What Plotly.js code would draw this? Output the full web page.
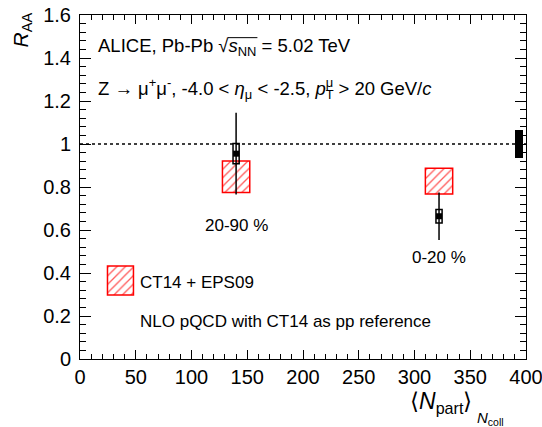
<!DOCTYPE html>
<html><head><meta charset="utf-8">
<script src="https://cdn.plot.ly/plotly-3.0.1.min.js"></script>
<style>html,body{margin:0;padding:0;background:#fff}</style>
</head><body>
<div id="chart" style="width:542px;height:427px"></div>
<script>
// ---------- data ----------
const centralityLabels = ['20-90 %', '0-20 %'];
const nPart = [140, 322];
const raa = [0.955, 0.664];
const statErr = [0.19, 0.111];
const sysErr = [0.047, 0.031];
const theoryCentral = [0.848, 0.827];
const theoryErr = [0.073, 0.060];
const globalUncX = [394];
const globalUnc = [0.066];
const xTickVals = [0, 50, 100, 150, 200, 250, 300, 350, 400];
const yTickVals = [0, 0.2, 0.4, 0.6, 0.8, 1, 1.2, 1.4, 1.6];

// ---------- geometry helpers ----------
const W = 542, H = 427, ML = 80, MR = 16, MT = 15, MB = 68;
const PW = W - ML - MR, PH = H - MT - MB;
const px2x = p => (p - ML) / PW;
const px2y = p => (H - MB - p) / PH;
const FONT = 'Liberation Sans, Arial, Helvetica, sans-serif';
const TOPSIZE = 18.5;

const hatch = {
  color: 'white',
  line: {color: '#ff0000', width: 1.5},
  pattern: {shape: '/', fgcolor: '#ff5a5a', bgcolor: 'white', size: 6, solidity: 0.22}
};

const data = [
  { // theory boxes
    type: 'bar', x: nPart,
    base: theoryCentral.map((c, i) => c - theoryErr[i]),
    y: theoryErr.map(e => 2 * e),
    width: 24.5, marker: hatch, hoverinfo: 'skip', showlegend: false
  },
  { // legend sample box
    type: 'bar', x: [36.3], base: [0.298], y: [0.135], width: 23.3,
    marker: hatch, hoverinfo: 'skip', showlegend: false
  },
  { // systematic boxes
    type: 'bar', x: nPart,
    base: raa.map((v, i) => v - sysErr[i]),
    y: sysErr.map(e => 2 * e),
    width: 5.5,
    marker: {color: 'rgba(0,0,0,0)', line: {color: 'black', width: 1.5}},
    hoverinfo: 'skip', showlegend: false
  },
  { // global uncertainty box
    type: 'bar', x: globalUncX,
    base: globalUnc.map(g => 1 - g), y: globalUnc.map(g => 2 * g),
    width: 7, marker: {color: 'black', line: {width: 0}},
    hoverinfo: 'skip', showlegend: false
  },
  { // data points
    type: 'scatter', mode: 'markers', x: nPart, y: raa,
    marker: {symbol: 'square', size: 6, color: 'black'},
    error_y: {type: 'data', array: statErr, width: 0, thickness: 1.5, color: 'black'},
    showlegend: false, cliponaxis: false
  }
];

const txt = (text, xp, yp, opts = {}) => Object.assign({
  text, xref: 'paper', yref: 'paper', x: px2x(xp), y: px2y(yp),
  xanchor: 'left', yanchor: 'middle', align: 'left', showarrow: false, borderpad: 0,
  font: {family: FONT, size: 17, color: 'black'}
}, opts);

const annotations = [
  txt('ALICE, Pb-Pb √<i>s</i><sub>NN</sub> = 5.02 TeV', 97, 47, {font: {family: FONT, size: TOPSIZE, color: 'black'}}),
  txt('Z → μ<sup>+</sup>μ<sup>-</sup>, -4.0 &lt; <i>η</i><sub>μ</sub> &lt; -2.5, <i>p</i><sub>T</sub><sup>μ</sup> &gt; 20 GeV/<i>c</i>', 97, 88,
      {font: {family: FONT, size: TOPSIZE, color: 'black'}}),
  txt('CT14 + EPS09', 139, 282),
  txt('NLO pQCD with CT14 as pp reference', 139, 321),
  // y title
  txt('<i>R</i><sub>AA</sub>', 22, 12, {xanchor: 'center', yanchor: 'top', align: 'center', textangle: -90,
      font: {family: FONT, size: 21, color: 'black'}}),
  // x title
  txt('⟨<i>N</i><sub>part</sub>⟩', 409, 402, {font: {family: FONT, size: 23, color: 'black'}}),
  txt('<i>N</i><sub>coll</sub>', 476, 418, {font: {family: FONT, size: 15, color: 'black'}})
];
// centrality labels at the data x positions
const labelYpx = [225, 257];
centralityLabels.forEach((lab, i) => {
  annotations.push({
    text: lab, xref: 'x', yref: 'paper', x: nPart[i], y: px2y(labelYpx[i]),
    xanchor: 'center', yanchor: 'middle', showarrow: false, borderpad: 0,
    font: {family: FONT, size: 17, color: 'black'}
  });
});

const axisCommon = {
  ticks: 'inside', tickcolor: 'black', tickwidth: 1,
  showline: true, linecolor: 'black', linewidth: 1, mirror: 'ticks',
  showgrid: false, zeroline: false, fixedrange: true,
  ticklabeloverflow: 'allow',
  tickfont: {family: FONT, size: 20, color: 'black'}
};

const layout = {
  width: W, height: H,
  margin: {l: ML, r: MR, t: MT, b: MB},
  paper_bgcolor: 'white', plot_bgcolor: 'white',
  barmode: 'overlay', bargap: 0,
  showlegend: false,
  xaxis: Object.assign({}, axisCommon, {
    range: [0, 400], tickmode: 'array', tickvals: xTickVals,
    ticktext: xTickVals.map(String), ticklen: 9,
    minor: {dtick: 10, tick0: 0, ticks: 'inside', ticklen: 5, tickcolor: 'black', tickwidth: 1, showgrid: false}
  }),
  yaxis: Object.assign({}, axisCommon, {
    range: [0, 1.6], tickmode: 'array', tickvals: yTickVals,
    ticktext: yTickVals.map(String), ticklen: 11, ticklabelstandoff: 4,
    minor: {dtick: 0.04, tick0: 0, ticks: 'inside', ticklen: 6, tickcolor: 'black', tickwidth: 1, showgrid: false}
  }),
  shapes: [{
    type: 'line', xref: 'x', yref: 'y', x0: 0, x1: 400, y0: 1, y1: 1,
    line: {color: 'black', width: 1.5, dash: '3px,3px'}, layer: 'below'
  }],
  annotations
};

const gd = document.getElementById('chart');
Plotly.newPlot(gd, data, layout, {staticPlot: true, displayModeBar: false}).then(() => {
  const root = gd.getBoundingClientRect();
  // overline for sqrt(s_NN)
  const t0 = gd.querySelector('g.annotation[data-index="0"] text.annotation-text');
  const spans0 = Array.from(t0.querySelectorAll('tspan'));
  const sSpan = spans0.find(s => s.textContent === 's');
  const nnSpan = spans0.find(s => s.textContent === 'NN');
  let newShapes = layout.shapes.slice();
  if (sSpan && nnSpan) {
    const rs = sSpan.getBoundingClientRect(), rn = nnSpan.getBoundingClientRect();
    const baseline = rs.bottom - root.top - 0.212 * TOPSIZE;
    const yov = baseline - 0.78 * TOPSIZE;
    newShapes.push({type: 'line', xref: 'paper', yref: 'paper',
      x0: px2x(rs.left - root.left - 0.5), x1: px2x(rn.right - root.left + 1),
      y0: px2y(yov), y1: px2y(yov), line: {color: 'black', width: 1}});
  }
  return Plotly.relayout(gd, {shapes: newShapes});
}).then(() => {
  // stack the p_T^mu sub/superscript
  const t1 = gd.querySelector('g.annotation[data-index="1"] text.annotation-text');
  const spans1 = Array.from(t1.querySelectorAll('tspan'));
  const iT = spans1.findIndex(s => s.textContent === 'T');
  if (iT >= 0) {
    const wT = spans1[iT].getComputedTextLength();
    for (let k = iT + 1; k < spans1.length; k++) {
      if (spans1[k].textContent === 'μ') {
        spans1[k].setAttribute('dx', (-wT).toFixed(2));
        break;
      }
    }
  }
});
</script>
</body></html>
